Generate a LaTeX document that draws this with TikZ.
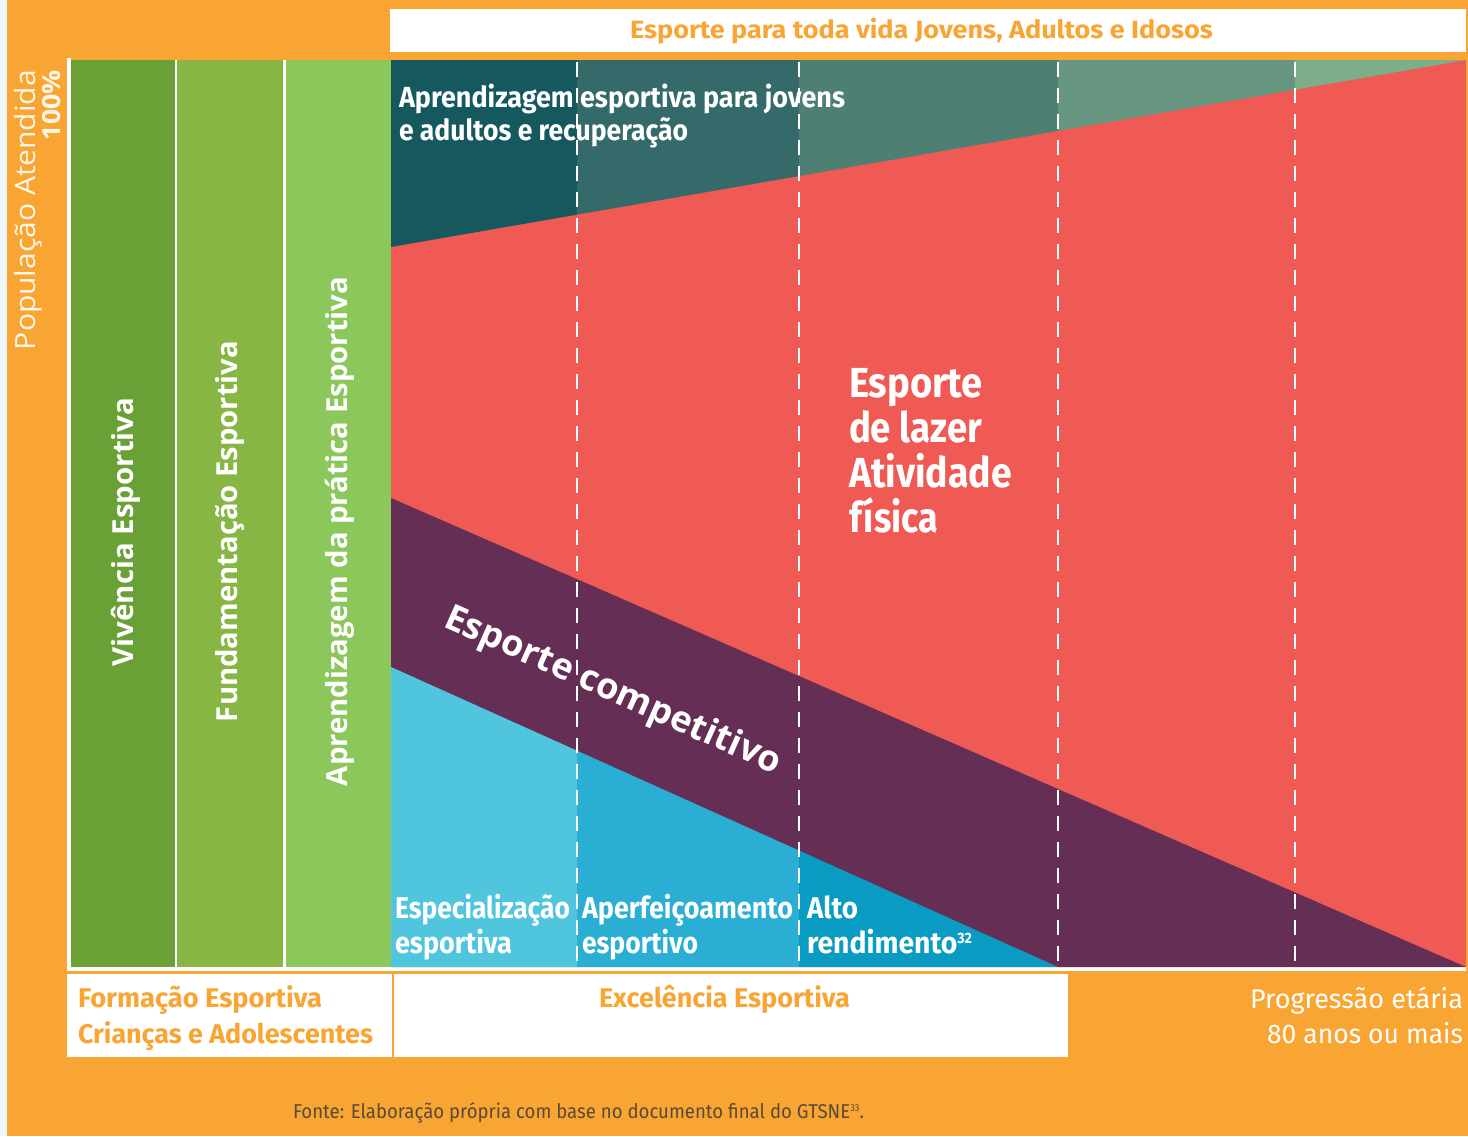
\documentclass[tikz,border=0pt]{standalone}
\usepackage{fontspec}
\usepackage{graphicx}
\setmainfont{Fira Sans}
\newfontfamily\opens{Open Sans}
\definecolor{orng}{HTML}{F9A533}
\definecolor{leftblue}{HTML}{EDF5F8}
\definecolor{gA}{HTML}{69A137}
\definecolor{gB}{HTML}{87B644}
\definecolor{gC}{HTML}{8BC75B}
\definecolor{tA}{HTML}{15595F}
\definecolor{tB}{HTML}{346B6A}
\definecolor{tC}{HTML}{4E7F73}
\definecolor{tD}{HTML}{669580}
\definecolor{tE}{HTML}{7CAE89}
\definecolor{lazer}{HTML}{EF5A55}
\definecolor{purp}{HTML}{652F55}
\definecolor{cA}{HTML}{4FC5DE}
\definecolor{cB}{HTML}{2AAED3}
\definecolor{cC}{HTML}{0A9BC2}
\definecolor{fonte}{HTML}{594A36}
\definecolor{popcol}{HTML}{FFF6EA}
\newcommand{\fw}[2]{\resizebox{#1}{\height}{#2}}
\newcommand{\fs}[1]{\fontsize{#1}{#1}\selectfont}
\begin{document}
\begin{tikzpicture}[x=1pt,y=-1pt,
  txt/.style={inner sep=0pt, outer sep=0pt, text=white},
  vdash/.style={draw=white, line width=1.8pt, dash pattern=on 15pt off 11pt},
  cnd/.style={txt, font=\fs{29}\bfseries},
  bot/.style={txt, font=\fs{30}\bfseries},
  lab/.style={txt, font=\fs{27}\bfseries, text=orng},
  col/.style={txt, font=\opens\fs{29}\bfseries, rotate=90, anchor=base},
]
\useasboundingbox (0,0) rectangle (1468,1136);
\fill[leftblue] (0,0) rectangle (7,1136);
\fill[orng] (7,0) rectangle (1468,1136);
\fill[white] (390,9) rectangle (1466,52);
% chart frame
\fill[white] (67,58) rectangle (70.5,970.5);
\fill[white] (67,967) rectangle (1466,970.5);
\fill[gA] (70.5,60) rectangle (175,967);
\fill[white] (175,60) rectangle (177.3,967);
\fill[gB] (177.3,60) rectangle (283.3,967);
\fill[white] (283.3,60) rectangle (285.7,967);
\fill[gC] (285.7,60) rectangle (391,967);
\fill[lazer] (391,60) rectangle (1466,967);
\begin{scope}
  \clip (391,60) -- (1466,60) -- (391,247) -- cycle;
  \fill[tA] (391,60) rectangle (577,247);
  \fill[tB] (577,60) rectangle (799,247);
  \fill[tC] (799,60) rectangle (1058,247);
  \fill[tD] (1058,60) rectangle (1295,247);
  \fill[tE] (1295,60) rectangle (1466,247);
\end{scope}
\fill[purp] (391,498) -- (1466,967) -- (391,967) -- cycle;
\begin{scope}
  \clip (391,667) -- (1058,967) -- (391,967) -- cycle;
  \fill[cA] (391,667) rectangle (577,967);
  \fill[cB] (577,667) rectangle (799,967);
  \fill[cC] (799,667) rectangle (1058,967);
\end{scope}
\foreach \xx in {577,799,1058,1295}
  \draw[vdash] (\xx,62) -- (\xx,967);
% bottom boxes
\fill[white] (67,974) rectangle (391.8,1057);
\fill[white] (394.3,974) rectangle (1068,1057);

% texts
\node[txt, anchor=base, font=\fs{25}\bfseries, text=orng] (title) at (921.5,38)
  {\fw{583pt}{Esporte para toda vida Jovens, Adultos e Idosos}};
\node[txt, font=\opens\fs{28}, text=popcol, rotate=90, anchor=base east] (pop1) at (35,70)
  {\fw{280pt}{População Atendida}};
\node[txt, font=\opens\fs{25}\bfseries, text=popcol, rotate=90, anchor=base east] (pop2) at (60,70)
  {\fw{70pt}{100\%}};
\node[col] (viv) at (133,532) {\fw{269pt}{Vivência Esportiva}};
\node[col] (fund) at (237,531.5) {\fw{381pt}{Fundamentação Esportiva}};
\node[col] (aprp) at (347,531.5) {\fw{509pt}{Aprendizagem da prática Esportiva}};

\node[cnd, anchor=base west] (apr1) at (399,107) {\fw{446pt}{Aprendizagem esportiva para jovens}};
\node[cnd, anchor=base west] (apr2) at (399,140) {\fw{289pt}{e adultos e recuperação}};

\node[txt, font=\fs{42}\bfseries, anchor=base west] (laz1) at (849,397) {\fw{134pt}{Esporte}};
\node[txt, font=\fs{42}\bfseries, anchor=base west] (laz2) at (849,442) {\fw{133pt}{de lazer}};
\node[txt, font=\fs{42}\bfseries, anchor=base west] (laz3) at (849,487) {\fw{163pt}{Atividade}};
\node[txt, font=\fs{42}\bfseries, anchor=base west] (laz4) at (849,532) {\fw{89pt}{física}};

\node[txt, font=\opens\fs{36}\bfseries, rotate=-24, anchor=base west] (comp) at (442,626)
  {\fw{365pt}{Esporte competitivo}};

\node[bot, anchor=base west] (esp1) at (395,918) {\fw{175pt}{Especialização}};
\node[bot, anchor=base west] (esp2) at (395,953) {\fw{117pt}{esportiva}};
\node[bot, anchor=base west] (aper1) at (582,918) {\fw{211pt}{Aperfeiçoamento}};
\node[bot, anchor=base west] (aper2) at (582,953) {\fw{116pt}{esportivo}};
\node[bot, anchor=base west] (alto1) at (807,918) {\fw{51pt}{Alto}};
\node[bot, anchor=base west] (alto2) at (807,953)
  {\fw{165pt}{rendimento\raisebox{10pt}{\fs{15}32}}};

\node[lab, anchor=base west] (form1) at (78,1007) {\fw{244pt}{Formação Esportiva}};
\node[lab, anchor=base west] (form2) at (78,1043) {\fw{295pt}{Crianças e Adolescentes}};
\node[lab, anchor=base] (exc) at (724.5,1007) {\fw{251pt}{Excelência Esportiva}};
\node[txt, font=\fs{27}, anchor=base east] (prog1) at (1463,1008) {\fw{213pt}{Progressão etária}};
\node[txt, font=\fs{27}, anchor=base east] (prog2) at (1463,1043) {\fw{196pt}{80 anos ou mais}};

\node[txt, font=\fs{20}, text=fonte, anchor=base west] (src) at (293,1118)
  {\fw{571pt}{Fonte: Elaboração própria com base no documento final do GTSNE\raisebox{7pt}{\fs{10}33}.}};
\end{tikzpicture}
\end{document}
